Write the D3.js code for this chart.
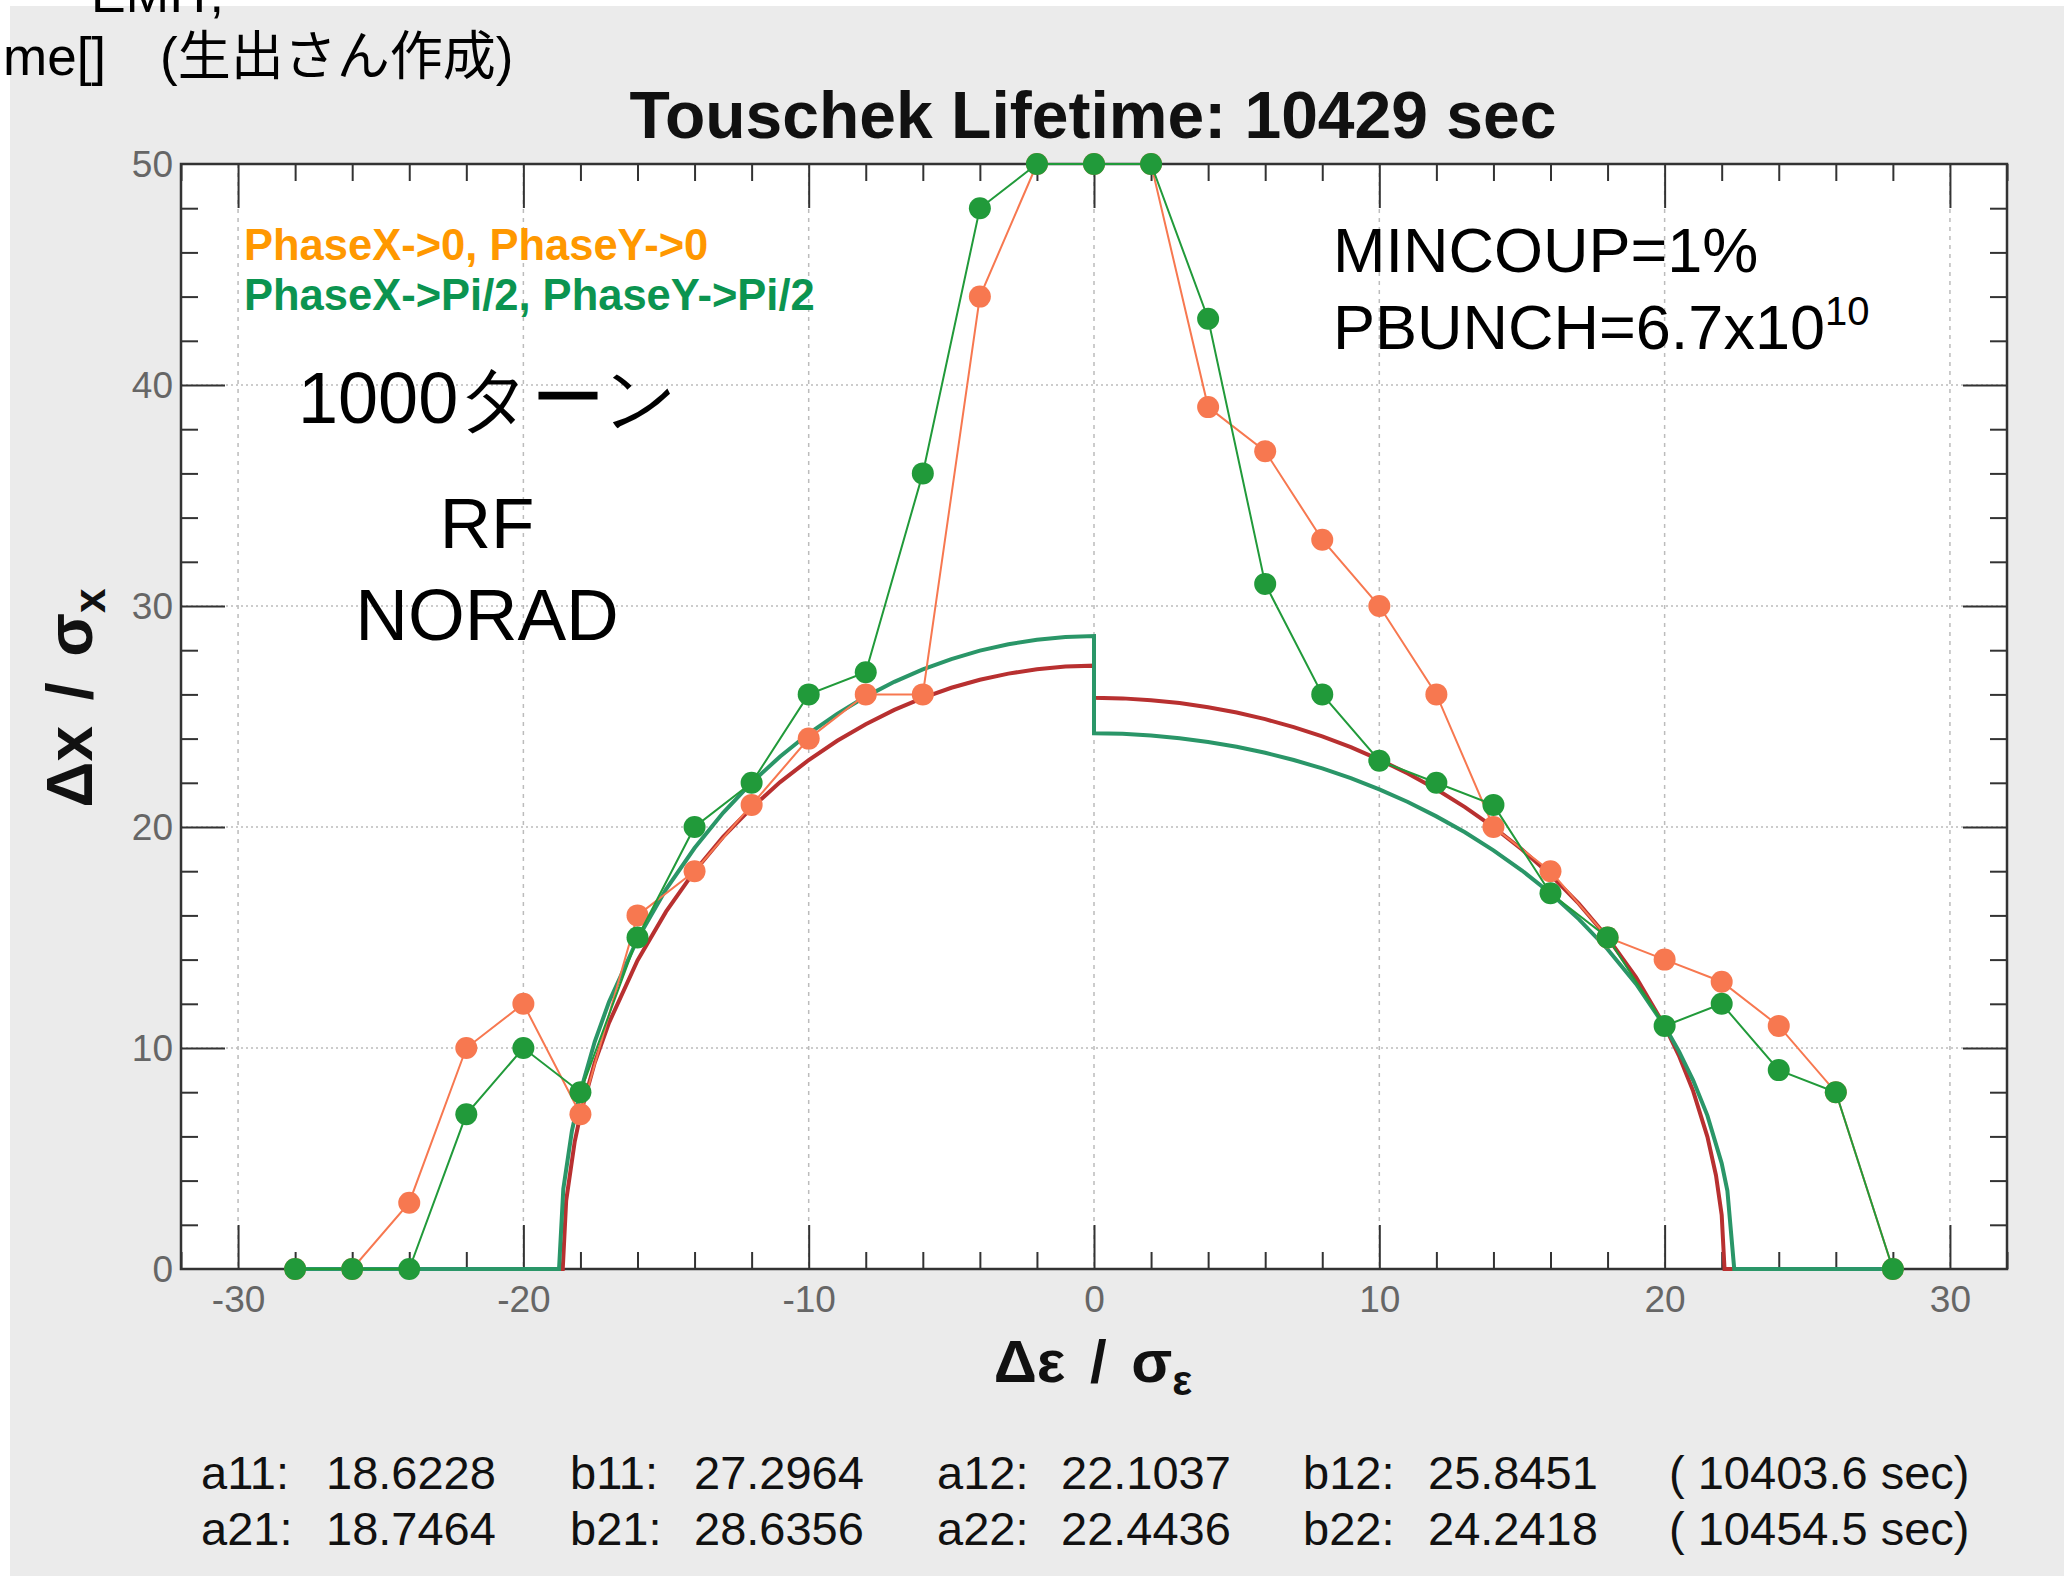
<!DOCTYPE html>
<html>
<head>
<meta charset="utf-8">
<script src="https://cdn.jsdelivr.net/npm/d3@7"></script>
<style>
  body { margin: 0; background: #fff; }
  svg { display: block; font-family: "Liberation Sans", Arial, Helvetica, sans-serif; }
</style>
</head>
<body>
<svg id="chart" width="2064" height="1576"></svg>
<script>
// tracking points (Δε/σε, Δx/σx)
const energyOffsets = [-28, -26, -24, -22, -20, -18, -16, -14, -12, -10, -8, -6, -4, -2, 0, 2, 4, 6, 8, 10, 12, 14, 16, 18, 20, 22, 24, 26, 28];
const phaseZero = [0, 0, 3, 10, 12, 7, 16, 18, 21, 24, 26, 26, 44, 50, 50, 50, 39, 37, 33, 30, 26, 20, 18, 15, 14, 13, 11, 8, 0];
const phasePi2 = [0, 0, 0, 7, 10, 8, 15, 20, 22, 26, 27, 36, 48, 50, 50, 50, 43, 31, 26, 23, 22, 21, 17, 15, 11, 12, 9, 8, 0];

// aperture fits (red = set 1, teal = set 2)
const fitRedX = [-28, -18.62, -18.5, -18.2, -18, -17.5, -17, -16, -15, -14, -13, -12, -11, -10, -9, -8, -7, -6, -5, -4, -3, -2, -1, 0,
                 0, 1, 2, 3, 4, 5, 6, 7, 8, 9, 10, 11, 12, 13, 14, 15, 16, 17, 18, 19, 20, 20.5, 21, 21.5, 21.8, 22, 22.1, 28];
const fitRedY = [0, 0, 3.09, 5.77, 6.99, 9.33, 11.14, 13.96, 16.17, 18.00, 19.55, 20.87, 22.03, 23.03, 23.90, 24.65, 25.30, 25.84, 26.30, 26.66, 26.94, 27.14, 27.26, 27.30,
                 25.85, 25.82, 25.74, 25.61, 25.42, 25.18, 24.88, 24.52, 24.10, 23.61, 23.05, 22.42, 21.71, 20.90, 20.00, 18.98, 17.83, 16.52, 15.00, 13.20, 11.00, 9.66, 8.05, 5.98, 4.24, 2.45, 0, 0];
const fitTealX = [-28, -18.75, -18.6, -18.3, -18, -17.5, -17, -16, -15, -14, -13, -12, -11, -10, -9, -8, -7, -6, -5, -4, -3, -2, -1, 0,
                  0, 1, 2, 3, 4, 5, 6, 7, 8, 9, 10, 11, 12, 13, 14, 15, 16, 17, 18, 19, 20, 20.5, 21, 21.5, 22, 22.2, 22.44, 28];
const fitTealY = [0, 0, 3.62, 6.24, 8.02, 10.28, 12.08, 14.93, 17.18, 19.05, 20.64, 22.01, 23.19, 24.23, 25.12, 25.90, 26.57, 27.13, 27.60, 27.98, 28.27, 28.47, 28.60, 28.64,
                  24.24, 24.22, 24.14, 24.02, 23.85, 23.63, 23.36, 23.03, 22.65, 22.21, 21.70, 21.13, 20.48, 19.76, 18.94, 18.03, 17.00, 15.82, 14.47, 12.90, 10.99, 9.86, 8.54, 6.94, 4.78, 3.54, 0, 0];

const xTicks = [-30, -20, -10, 0, 10, 20, 30];
const yTicks = [0, 10, 20, 30, 40, 50];
const paramRow1 = ["a11:", "18.6228", "b11:", "27.2964", "a12:", "22.1037", "b12:", "25.8451", "( 10403.6 sec)"];
const paramRow2 = ["a21:", "18.7464", "b21:", "28.6356", "a22:", "22.4436", "b22:", "24.2418", "( 10454.5 sec)"];

const svg = d3.select("#chart");
const plot = { left: 181, right: 2007, top: 164, bottom: 1269 };

// page background
svg.append("rect").attr("x", 10).attr("y", 6).attr("width", 2054).attr("height", 1570).attr("fill", "#ebebeb");

const x = d3.scaleLinear().domain([-32, 32]).range([plot.left, plot.right]);
const y = d3.scaleLinear().domain([0, 50]).range([plot.bottom, plot.top]);

svg.append("rect")
    .attr("x", plot.left).attr("y", plot.top)
    .attr("width", plot.right - plot.left).attr("height", plot.bottom - plot.top)
    .attr("fill", "#fff");

// grid
const grid = svg.append("g");
grid.selectAll(".gx").data(xTicks).join("line")
    .attr("x1", d => x(d)).attr("x2", d => x(d))
    .attr("y1", plot.top).attr("y2", plot.bottom)
    .attr("stroke", "#bcbcbc").attr("stroke-width", 1.5).attr("stroke-dasharray", "4,5");
grid.selectAll(".gy").data(yTicks.slice(1, -1)).join("line")
    .attr("x1", plot.left).attr("x2", plot.right)
    .attr("y1", d => y(d)).attr("y2", d => y(d))
    .attr("stroke", "#bcbcbc").attr("stroke-width", 1.5).attr("stroke-dasharray", "2,3");

// axes with inward ticks on all four sides
const minorX = d3.range(-32, 33, 2).filter(d => d % 10 !== 0);
const minorY = d3.range(0, 51, 2).filter(d => d % 10 !== 0);
const tickColor = "#333";
const axisBottom = d3.axisBottom(x).tickValues(xTicks).tickSize(-44).tickFormat(d => String(d));
const axisTop = d3.axisTop(x).tickValues(xTicks).tickSize(-44).tickFormat("");
const axisLeft = d3.axisLeft(y).tickValues(yTicks.slice(1, -1)).tickSize(-44).tickFormat("");
const axisRight = d3.axisRight(y).tickValues(yTicks.slice(1, -1)).tickSize(-44).tickFormat("");

function styleAxis(g) {
    g.select(".domain").remove();
    g.selectAll(".tick line").attr("stroke", tickColor).attr("stroke-width", 2);
}
svg.append("g").attr("transform", `translate(0,${plot.bottom})`).call(axisBottom).call(styleAxis)
    .call(g => g.selectAll(".tick text").attr("y", 17).attr("dy", "0.71em")
        .attr("font-size", 37).attr("fill", "#666").attr("font-family", "Liberation Sans, Arial, sans-serif"));
svg.append("g").attr("transform", `translate(0,${plot.top})`).call(axisTop).call(styleAxis);
svg.append("g").attr("transform", `translate(${plot.left},0)`).call(axisLeft).call(styleAxis);
svg.append("g").attr("transform", `translate(${plot.right},0)`).call(axisRight).call(styleAxis);

svg.append("g").attr("transform", `translate(0,${plot.bottom})`)
    .call(d3.axisBottom(x).tickValues(minorX).tickSize(-17).tickFormat("")).call(styleAxis);
svg.append("g").attr("transform", `translate(0,${plot.top})`)
    .call(d3.axisTop(x).tickValues(minorX).tickSize(-17).tickFormat("")).call(styleAxis);
svg.append("g").attr("transform", `translate(${plot.left},0)`)
    .call(d3.axisLeft(y).tickValues(minorY).tickSize(-17).tickFormat("")).call(styleAxis);
svg.append("g").attr("transform", `translate(${plot.right},0)`)
    .call(d3.axisRight(y).tickValues(minorY).tickSize(-17).tickFormat("")).call(styleAxis);

// y tick labels (outside, left)
svg.append("g").selectAll("text").data(yTicks).join("text")
    .attr("x", plot.left - 8).attr("y", d => y(d)).attr("dy", "0.36em")
    .attr("text-anchor", "end").attr("font-size", 37).attr("fill", "#666")
    .text(d => d);

// frame
svg.append("rect")
    .attr("x", plot.left).attr("y", plot.top)
    .attr("width", plot.right - plot.left).attr("height", plot.bottom - plot.top)
    .attr("fill", "none").attr("stroke", "#333").attr("stroke-width", 2.5);

// fit curves
const line = d3.line().x(d => x(d[0])).y(d => y(d[1]));
const redPts = fitRedX.map((v, i) => [v, fitRedY[i]]);
const tealPts = fitTealX.map((v, i) => [v, fitTealY[i]]);
svg.append("path").datum(redPts).attr("d", line)
    .attr("fill", "none").attr("stroke", "#b83030").attr("stroke-width", 4);
svg.append("path").datum(tealPts).attr("d", line)
    .attr("fill", "none").attr("stroke", "#2a9668").attr("stroke-width", 4);

// tracking data
function drawSeries(values, color) {
    const pts = energyOffsets.map((e, i) => [e, values[i]]);
    const g = svg.append("g");
    g.append("path").datum(pts).attr("d", line)
        .attr("fill", "none").attr("stroke", color).attr("stroke-width", 2);
    g.selectAll("circle").data(pts).join("circle")
        .attr("cx", d => x(d[0])).attr("cy", d => y(d[1])).attr("r", 11)
        .attr("fill", color);
}
drawSeries(phaseZero, "#f77850");
drawSeries(phasePi2, "#219a3a");

// title
svg.append("text").attr("x", 1093).attr("y", 138).attr("text-anchor", "middle")
    .attr("font-size", 66).attr("font-weight", "bold").attr("fill", "#111")
    .text("Touschek Lifetime: 10429 sec");

// axis titles
const xTitle = svg.append("text").attr("x", 1093).attr("y", 1382).attr("text-anchor", "middle")
    .attr("font-size", 60).attr("font-weight", "bold").attr("fill", "#111")
    .attr("word-spacing", 8);
xTitle.append("tspan").text("Δε / σ");
xTitle.append("tspan").attr("font-size", 42).attr("dy", 13).text("ε");

const yTitle = svg.append("text").attr("transform", "translate(92,698) rotate(-90)").attr("text-anchor", "middle")
    .attr("font-size", 64).attr("font-weight", "bold").attr("fill", "#111")
    .attr("word-spacing", 8);
yTitle.append("tspan").text("Δx / σ");
yTitle.append("tspan").attr("font-size", 44).attr("dy", 13).text("x");

// legend & annotations
svg.append("text").attr("x", 244).attr("y", 260).attr("font-size", 43.5).attr("font-weight", "bold")
    .attr("fill", "#ff9800").text("PhaseX->0, PhaseY->0");
svg.append("text").attr("x", 244).attr("y", 310).attr("font-size", 43.5).attr("font-weight", "bold")
    .attr("fill", "#0b9450").text("PhaseX->Pi/2, PhaseY->Pi/2");
svg.append("text").attr("x", 298).attr("y", 423).attr("font-size", 72).attr("fill", "#000")
    .text("1000ターン");
svg.append("text").attr("x", 487).attr("y", 548).attr("text-anchor", "middle").attr("font-size", 71).attr("fill", "#000")
    .text("RF");
svg.append("text").attr("x", 487).attr("y", 640).attr("text-anchor", "middle").attr("font-size", 73).attr("fill", "#000")
    .text("NORAD");
svg.append("text").attr("x", 1333).attr("y", 272).attr("font-size", 63).attr("fill", "#000")
    .text("MINCOUP=1%");
const pb = svg.append("text").attr("x", 1333).attr("y", 349).attr("font-size", 63).attr("fill", "#000");
pb.append("tspan").text("PBUNCH=6.7x10");
pb.append("tspan").attr("font-size", 40).attr("dy", -24).text("10");

// header fragments
svg.append("text").attr("x", 91).attr("y", 12).attr("font-size", 52).attr("fill", "#000").text("EMIT,");
svg.append("text").attr("x", 3).attr("y", 75).attr("font-size", 53).attr("fill", "#000").text("me[]");
svg.append("text").attr("x", 160).attr("y", 75).attr("font-size", 53).attr("fill", "#000")
    .attr("font-family", "Liberation Sans, 'Noto Sans CJK JP', sans-serif").text("(生出さん作成)");

// fit parameters
const colX = [201, 326, 570, 694, 937, 1061, 1303, 1428, 1669];
[paramRow1, paramRow2].forEach((row, r) => {
    svg.append("g").selectAll("text").data(row).join("text")
        .attr("x", (d, i) => colX[i]).attr("y", 1489 + r * 56)
        .attr("font-size", 47).attr("fill", "#111")
        .text(d => d);
});
</script>
</body>
</html>
